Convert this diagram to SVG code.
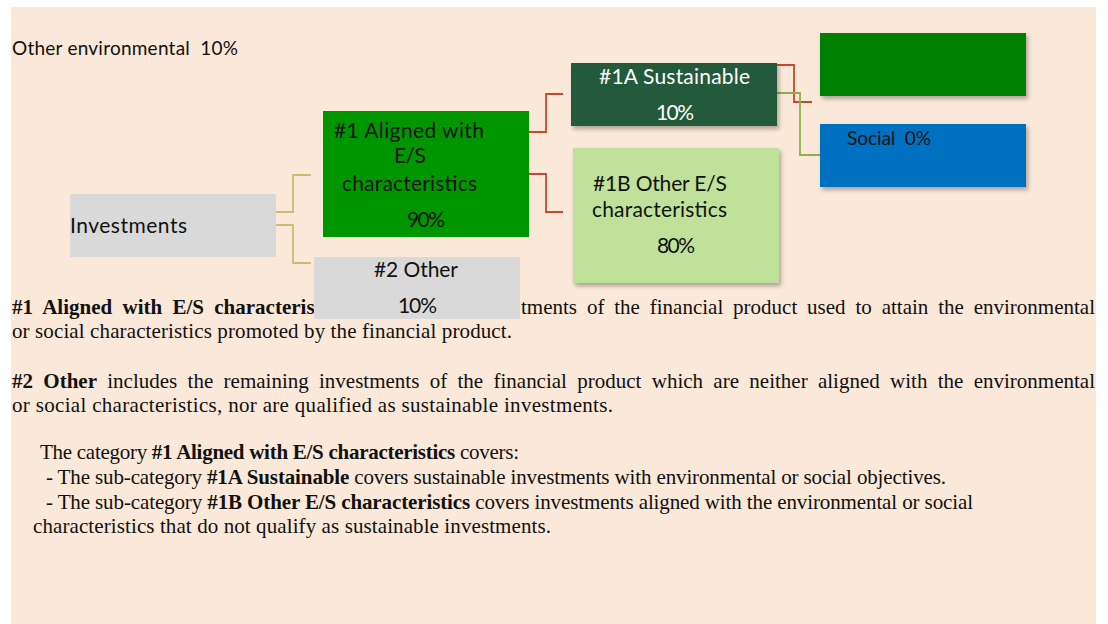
<svg xmlns="http://www.w3.org/2000/svg" width="1108" height="624" viewBox="0 0 1108 624">
<defs>
<filter id="sh" x="-10%" y="-10%" width="130%" height="140%">
<feDropShadow dx="2" dy="3" stdDeviation="2" flood-color="#000" flood-opacity="0.3"/>
</filter>
<style>
.lbl{font-family:Lato,"Open Sans","Liberation Sans",sans-serif;font-size:21px;fill:#111}
.sm{font-family:Lato,"Open Sans","Liberation Sans",sans-serif;font-size:19px;fill:#111}
.wt{fill:#fff}
.p{font-family:"Liberation Serif","Times New Roman",serif;font-size:21px;fill:#111}
.b{font-weight:bold}
.c{fill:none;stroke-width:1.8}
.tan{stroke:#CDBD6E}
.red{stroke:#C9472B}
.olv{stroke:#8DB052}
</style>
</defs>
<rect x="11" y="7" width="1085" height="617" fill="#FAE8D8"/>
<g id="texts">
<text class="sm" x="12" y="55" textLength="226" xml:space="preserve">Other environmental  10%</text>
<text class="p b" x="12" y="314" word-spacing="5.06">#1 Aligned with E/S characteris</text>
<text class="p" x="521" y="314" word-spacing="4.6" textLength="574">tments of the financial product used to attain the environmental</text>
<text class="p" x="12" y="338" textLength="500">or social characteristics promoted by the financial product.</text>
<text class="p" x="12" y="388" word-spacing="5.06" textLength="1083"><tspan class="b">#2 Other</tspan> includes the remaining investments of the financial product which are neither aligned with the environmental</text>
<text class="p" x="12" y="412" textLength="601">or social characteristics, nor are qualified as sustainable investments.</text>
<text class="p" x="40" y="459" textLength="479">The category <tspan class="b">#1 Aligned with E/S characteristics</tspan> covers:</text>
<text class="p" x="46" y="484" textLength="900">- The sub-category <tspan class="b">#1A Sustainable</tspan> covers sustainable investments with environmental or social objectives.</text>
<text class="p" x="46" y="509" textLength="927">- The sub-category <tspan class="b">#1B Other E/S characteristics</tspan> covers investments aligned with the environmental or social</text>
<text class="p" x="33" y="533" textLength="518">characteristics that do not qualify as sustainable investments.</text>
</g>
<g id="connectors">
<polyline class="c tan" points="276,212 293,212 293,175 311,175"/>
<polyline class="c tan" points="276,225 293,225 293,263 311,263"/>
<polyline class="c red" points="529,132 546,132 546,94 563,94"/>
<polyline class="c red" points="529,174 546,174 546,212 563,212"/>
<polyline class="c red" points="777,65 794,65 794,102 812,102"/>
<polyline class="c olv" points="777,93 800,93 800,155 820,155"/>
</g>
<g id="investments">
<rect x="70" y="194" width="206" height="63" fill="#D9D9D9"/>
<text class="lbl" x="70" y="233" textLength="117">Investments</text>
</g>
<g id="aligned">
<rect x="323" y="111" width="206" height="126" fill="#009600"/>
<text class="lbl" x="334" y="138" textLength="150">#1 Aligned with</text>
<text class="lbl" x="394" y="163" textLength="32">E/S</text>
<text class="lbl" x="342" y="191" textLength="135">characteristics</text>
<text class="lbl" x="407" y="227" textLength="38">90%</text>
</g>
<g id="other">
<rect x="314" y="257" width="206" height="62" fill="#D9D9D9"/>
<text class="lbl" x="374" y="277" textLength="84">#2 Other</text>
<text class="lbl" x="398" y="313" textLength="39">10%</text>
</g>
<g id="sustainable">
<rect x="571" y="63" width="206" height="63" fill="#235A3A" filter="url(#sh)"/>
<text class="lbl wt" x="599" y="84" textLength="151">#1A Sustainable</text>
<text class="lbl wt" x="656" y="120" textLength="38">10%</text>
</g>
<g id="other-es">
<rect x="573" y="148" width="206" height="135" fill="#BFE19A" filter="url(#sh)"/>
<text class="lbl" x="593" y="191" textLength="134">#1B Other E/S</text>
<text class="lbl" x="592" y="217" textLength="135">characteristics</text>
<text class="lbl" x="657" y="253" textLength="38">80%</text>
</g>
<g id="environmental">
<rect x="820" y="33" width="206" height="63" fill="#008000" filter="url(#sh)"/>
</g>
<g id="social">
<rect x="820" y="124" width="206" height="63" fill="#0070C0" filter="url(#sh)"/>
<text class="sm" x="847" y="145" textLength="84" xml:space="preserve">Social  0%</text>
</g>
</svg>
